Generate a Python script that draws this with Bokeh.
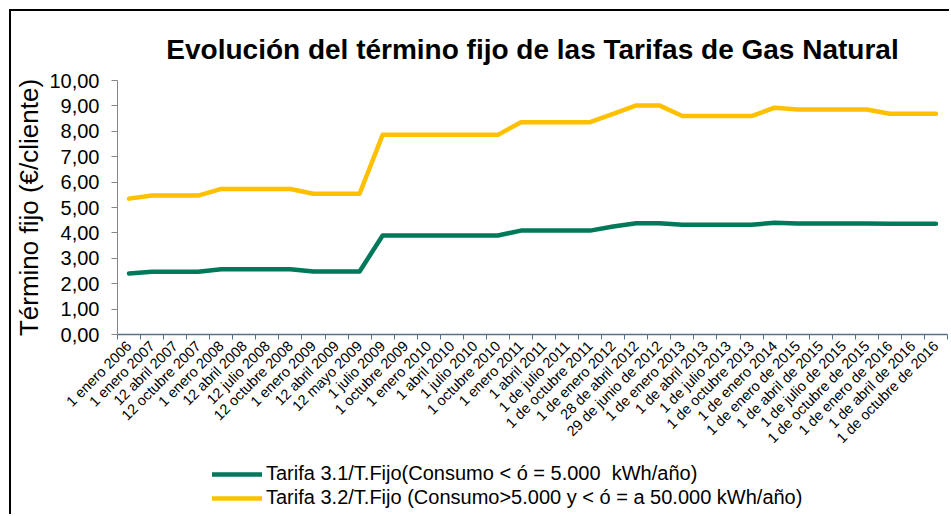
import math
from bokeh.plotting import figure
from bokeh.layouts import column
from bokeh.models import FixedTicker, Legend, LegendItem
from bokeh.embed import file_html
from bokeh.resources import INLINE

categories = [
    "1 enero 2006", "1 enero 2007", "12 abril 2007", "12 octubre 2007",
    "1 enero 2008", "12 abril 2008", "12 julio 2008", "12 octubre 2008",
    "1 enero 2009", "12 abril 2009", "12 mayo 2009", "1 julio 2009",
    "1 octubre 2009", "1 enero 2010", "1 abril 2010", "1 julio 2010",
    "1 octubre 2010", "1 enero 2011", "1 abril 2011", "1 de julio 2011",
    "1 de octubre 2011", "1 de enero 2012", "28 de abril 2012",
    "29 de junio de 2012", "1 de enero 2013", "1 de abril 2013",
    "1 de julio 2013", "1 de octubre 2013", "1 de enero 2014",
    "1 de enero de 2015", "1 de abril de 2015", "1 de julio de 2015",
    "1 de octubre de 2015", "1 de enero de 2016", "1 de abril de 2016",
    "1 de octubre de 2016",
]

tarifa_31 = [2.40, 2.47, 2.47, 2.47, 2.57, 2.57, 2.57, 2.57, 2.48, 2.48, 2.48,
             3.90, 3.90, 3.90, 3.90, 3.90, 3.90, 4.09, 4.09, 4.09, 4.09, 4.25,
             4.38, 4.38, 4.32, 4.32, 4.32, 4.32, 4.40, 4.37, 4.37, 4.37, 4.37,
             4.36, 4.36, 4.36]

tarifa_32 = [5.35, 5.47, 5.47, 5.47, 5.73, 5.73, 5.73, 5.73, 5.54, 5.54, 5.54,
             7.86, 7.86, 7.86, 7.86, 7.86, 7.86, 8.36, 8.36, 8.36, 8.36, 8.69,
             9.02, 9.02, 8.60, 8.60, 8.60, 8.60, 8.93, 8.86, 8.86, 8.86, 8.86,
             8.69, 8.69, 8.69]

y_ticks = [0, 1, 2, 3, 4, 5, 6, 7, 8, 9, 10]
y_tick_labels = ["0,00", "1,00", "2,00", "3,00", "4,00", "5,00", "6,00",
                 "7,00", "8,00", "9,00", "10,00"]

label_31 = "Tarifa 3.1/T.Fijo(Consumo < ó = 5.000  kWh/año)"
label_32 = "Tarifa 3.2/T.Fijo (Consumo>5.000 y < ó = a 50.000 kWh/año)"

FONT = "Liberation Sans"
GREEN = "#00795A"
GOLD = "#FFC000"

x = list(range(len(categories)))

W = 938
H1 = 443
H2 = 60

p = figure(width=W, height=H1, x_range=(-0.5, len(categories) - 0.5),
           y_range=(0, 10), output_backend="svg", toolbar_location=None,
           min_border_left=106, min_border_right=2, min_border_top=69,
           min_border_bottom=H1 - 323)

p.title.text = "Evolución del término fijo de las Tarifas de Gas Natural"
p.title.text_font = FONT
p.title.text_font_style = "bold"
p.title.text_font_size = "28px"
p.title.text_color = "black"
p.title.align = "center"
p.title.standoff = 32

p.xgrid.visible = False
p.ygrid.visible = False
p.outline_line_color = None

p.line(x, tarifa_31, line_color=GREEN, line_width=4.5, line_cap="round",
       line_join="round")
p.line(x, tarifa_32, line_color=GOLD, line_width=4.5, line_cap="round",
       line_join="round")

# y axis
yax = p.yaxis[0]
yax.ticker = FixedTicker(ticks=y_ticks)
yax.major_label_overrides = {t: l for t, l in zip(y_ticks, y_tick_labels)}
yax.major_label_text_font = FONT
yax.major_label_text_font_size = "20px"
yax.major_label_text_color = "black"
yax.major_tick_out = 6
yax.major_tick_in = 0
yax.minor_tick_out = 0
yax.minor_tick_in = 0
yax.axis_line_color = "#868686"
yax.major_tick_line_color = "#868686"
yax.major_label_standoff = 12
yax.axis_label = "Término fijo (€/cliente)"
yax.axis_label_text_font = FONT
yax.axis_label_text_font_style = "normal"
yax.axis_label_text_font_size = "26px"
yax.axis_label_text_color = "black"
yax.axis_label_standoff = 2

# x axis
xax = p.xaxis[0]
xax.ticker = FixedTicker(ticks=x, minor_ticks=[i - 0.5 for i in range(len(categories) + 1)])
xax.major_label_overrides = {i: c for i, c in zip(x, categories)}
xax.major_label_orientation = math.pi / 4
xax.major_label_text_font = FONT
xax.major_label_text_font_size = "14.5px"
xax.major_label_text_color = "black"
xax.major_tick_out = 0
xax.major_tick_in = 0
xax.minor_tick_out = 5
xax.minor_tick_in = 0
xax.axis_line_color = "#56708A"
xax.minor_tick_line_color = "#56708A"
xax.axis_line_width = 1.5
xax.major_label_standoff = 4

# legend strip below the chart (own small canvas, same styling)
pl = figure(width=W, height=H2, x_range=(0, 1), y_range=(0, 1),
            output_backend="svg", toolbar_location=None,
            x_axis_type=None, y_axis_type=None,
            min_border_left=0, min_border_right=0, min_border_top=0,
            min_border_bottom=0)
pl.xgrid.visible = False
pl.ygrid.visible = False
pl.outline_line_color = None
nan = float("nan")
k1 = pl.line(x=[nan, nan], y=[nan, nan], line_color=GREEN, line_width=4.5,
             line_cap="round")
k2 = pl.line(x=[nan, nan], y=[nan, nan], line_color=GOLD, line_width=4.5,
             line_cap="round")

legend = Legend(items=[LegendItem(label=label_31, renderers=[k1]),
                       LegendItem(label=label_32, renderers=[k2])],
                location=(95, 5), orientation="vertical",
                border_line_color=None, background_fill_alpha=0,
                label_text_font=FONT, label_text_font_size="20px",
                label_text_color="black",
                glyph_width=50, glyph_height=20, label_height=20,
                spacing=1, padding=0, margin=0, label_standoff=4)
pl.add_layout(legend, "center")

layout = column(p, pl, spacing=0,
                styles={"border-top": "2px solid black",
                        "border-left": "2px solid black",
                        "margin-left": "9px", "margin-top": "9px"})

open("out.html", "w").write(file_html(layout, INLINE))
